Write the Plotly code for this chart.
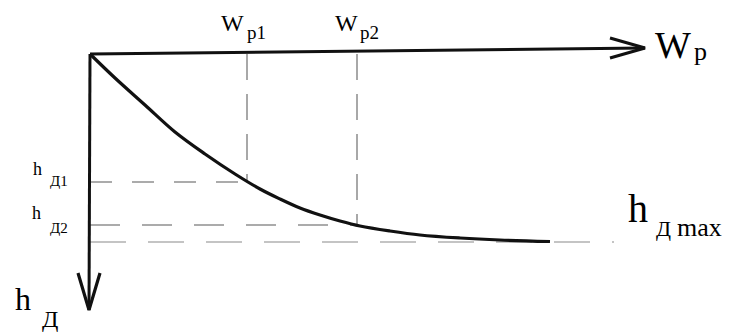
import plotly.graph_objects as go

# ---- data (chart units: W to the right, h downward) ----
W_curve = [0, 2.5, 5.5, 8.5, 11.5, 14.5, 17, 19, 21, 23, 25, 27, 30, 33, 37, 41, 46]
h_curve = [0, 2.4, 5.1, 7.8, 10.0, 12.0, 13.5, 14.5, 15.4, 16.1, 16.7, 17.2, 17.7, 18.1, 18.4, 18.6, 18.75]
W_marks = [15.7, 26.7]          # W_p1, W_p2
h_marks = [12.8, 17.1]          # h_Д1, h_Д2
h_max = 18.8
h_max_line_end = 52.4
W_axis_end = 55.5
W_axis_tip_h = -0.6
h_axis_end = 25.6

WIDTH, HEIGHT = 733, 333
X_RANGE = [-9, 64.3]
Y_RANGE = [27.9, -5.4]

fig = go.Figure()

BLACK = "#111111"

# dashed guide lines
vcol = "#8c8c8c"
hcol = "#ababab"
dash_v = "26px,14px"
for wm, hm in zip(W_marks, h_marks):
    fig.add_trace(go.Scatter(x=[wm, wm], y=[0, hm], mode="lines",
                             line=dict(color=vcol, width=1.5, dash=dash_v), hoverinfo="skip"))
fig.add_trace(go.Scatter(x=[0, W_marks[0]], y=[h_marks[0], h_marks[0]], mode="lines",
                         line=dict(color=hcol, width=2, dash="22px,20px"), hoverinfo="skip"))
fig.add_trace(go.Scatter(x=[0, W_marks[1]], y=[h_marks[1], h_marks[1]], mode="lines",
                         line=dict(color=hcol, width=2, dash="30px,22px"), hoverinfo="skip"))
fig.add_trace(go.Scatter(x=[0, h_max_line_end], y=[h_max, h_max], mode="lines",
                         line=dict(color="#8a8a8a", width=1.1, dash="36px,22px"), hoverinfo="skip"))

# axes
fig.add_trace(go.Scatter(x=[0, W_axis_end], y=[0, W_axis_tip_h], mode="lines",
                         line=dict(color=BLACK, width=3), hoverinfo="skip"))
fig.add_trace(go.Scatter(x=[W_axis_end - 3.5, W_axis_end, W_axis_end - 3.5],
                         y=[W_axis_tip_h - 1.0, W_axis_tip_h, W_axis_tip_h + 1.0], mode="lines",
                         line=dict(color=BLACK, width=3.2), hoverinfo="skip"))
fig.add_trace(go.Scatter(x=[0, -0.1], y=[0, h_axis_end], mode="lines",
                         line=dict(color=BLACK, width=3), hoverinfo="skip"))
fig.add_trace(go.Scatter(x=[-1.2, -0.1, 1.0], y=[h_axis_end - 3.7, h_axis_end, h_axis_end - 3.7],
                         mode="lines", line=dict(color=BLACK, width=3.2), hoverinfo="skip"))

# curve
fig.add_trace(go.Scatter(x=W_curve, y=h_curve, mode="lines",
                         line=dict(color=BLACK, width=3.2, shape="spline", smoothing=1.0),
                         hoverinfo="skip"))

FONT = "Times New Roman"
TCOL = "#000000"


def label(text, px_left, baseline, fs):
    cy = baseline - 0.3375 * fs
    fig.add_annotation(text=text, xref="paper", yref="paper",
                       x=px_left / WIDTH, y=1 - cy / HEIGHT,
                       xanchor="left", yanchor="middle", showarrow=False,
                       font=dict(family=FONT, size=fs, color=TCOL))


label("W", 219, 31, 24)
label("p1", 245, 39, 19)
label("W", 333, 31, 24)
label("p2", 358, 39, 19)
label("W", 653, 58, 38)
label("p", 692, 60, 26)
label("h", 31, 175, 18)
label("Д1", 48, 186, 15)
label("h", 30, 219, 18)
label("Д2", 48, 233, 15)
label("h", 13, 310, 32)
label("Д", 40, 327, 24)
label("h", 626, 222, 40)
label("Д", 654, 236, 22)
label("max", 675, 236, 26)

fig.update_layout(
    width=WIDTH, height=HEIGHT,
    margin=dict(l=0, r=0, t=0, b=0),
    paper_bgcolor="white", plot_bgcolor="white",
    font=dict(family=FONT, color=TCOL),
    showlegend=False,
    xaxis=dict(range=X_RANGE, visible=False, fixedrange=True),
    yaxis=dict(range=Y_RANGE, visible=False, fixedrange=True),
)

fig.write_html("out.html")
